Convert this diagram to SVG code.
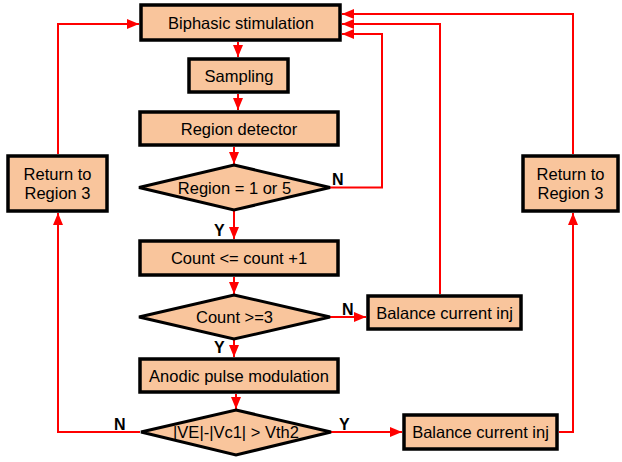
<svg xmlns="http://www.w3.org/2000/svg" width="622" height="462" viewBox="0 0 622 462">
<style>
.box{fill:#F9C59C;stroke:#000;stroke-width:3.5}
.dia{fill:#F9C59C;stroke:#000;stroke-width:3}
.t{font-family:"Liberation Sans",Arial,sans-serif;font-size:16.5px;fill:#000;text-anchor:middle}
.lbl{font-family:"Liberation Sans",Arial,sans-serif;font-size:16px;font-weight:bold;fill:#000}
.c{fill:none;stroke:#FF0000;stroke-width:2;marker-end:url(#ah)}
</style>
<defs>
<marker id="ah" markerUnits="userSpaceOnUse" markerWidth="12" markerHeight="10" refX="12" refY="5" orient="auto">
<path d="M0,0 L12,5 L0,10 z" fill="#FF0000"/>
</marker>
</defs>
<rect width="622" height="462" fill="#fff"/>
<g id="connectors">
<path class="c" d="M238,42 V57"/>
<path class="c" d="M238,94 V110"/>
<path class="c" d="M234,147 V164"/>
<path class="c" d="M330,187.5 H382 V34 H342"/>
<path class="c" d="M440,294 V24 H342"/>
<path class="c" d="M573,154 V14 H342"/>
<path class="c" d="M58,154 V24 H139"/>
<path class="c" d="M234,210 V239"/>
<path class="c" d="M234,277 V294"/>
<path class="c" d="M330,317 H366"/>
<path class="c" d="M234,340 V357"/>
<path class="c" d="M236,394 V409"/>
<path class="c" d="M140,432 H58 V213"/>
<path class="c" d="M331,432 H402"/>
<path class="c" d="M559,432 H573 V213"/>
<text class="lbl" x="332" y="185">N</text>
<text class="lbl" x="214" y="236">Y</text>
<text class="lbl" x="342" y="315">N</text>
<text class="lbl" x="214" y="353">Y</text>
<text class="lbl" x="114" y="430">N</text>
<text class="lbl" x="339" y="430">Y</text>
</g>
<g id="biphasic">
<rect class="box" x="141" y="5" width="199" height="35"/>
<text class="t" x="241" y="28.5">Biphasic stimulation</text>
</g>
<g id="sampling">
<rect class="box" x="189" y="59" width="99" height="33"/>
<text class="t" x="239" y="81.5">Sampling</text>
</g>
<g id="region-detector">
<rect class="box" x="140" y="112" width="198" height="33"/>
<text class="t" x="239" y="134.5">Region detector</text>
</g>
<g id="region-decision">
<polygon class="dia" points="234,165 330,187.5 234,210 139,187.5"/>
<text class="t" x="234.5" y="193.5">Region = 1 or 5</text>
</g>
<g id="count">
<rect class="box" x="140" y="241" width="198" height="34"/>
<text class="t" x="239" y="264">Count &lt;= count +1</text>
</g>
<g id="count-decision">
<polygon class="dia" points="234,295 330,317 234,339 139,317"/>
<text class="t" x="234.5" y="323">Count &gt;=3</text>
</g>
<g id="balance1">
<rect class="box" x="368" y="296" width="153" height="33"/>
<text class="t" x="444.5" y="318.5">Balance current inj</text>
</g>
<g id="anodic">
<rect class="box" x="140" y="359" width="198" height="33"/>
<text class="t" x="239" y="381.5">Anodic pulse modulation</text>
</g>
<g id="vth-decision">
<polygon class="dia" points="236,410 331,432 236,455 141,432"/>
<text class="t" x="236" y="438">|VE|-|Vc1| &gt; Vth2</text>
</g>
<g id="balance2">
<rect class="box" x="404" y="415" width="153" height="34"/>
<text class="t" x="480.5" y="438">Balance current inj</text>
</g>
<g id="return-left">
<rect class="box" x="8" y="156" width="99" height="55"/>
<text class="t" x="57.5" y="180">Return to</text>
<text class="t" x="57.5" y="199">Region 3</text>
</g>
<g id="return-right">
<rect class="box" x="523" y="156" width="95" height="55"/>
<text class="t" x="570.5" y="180">Return to</text>
<text class="t" x="570.5" y="199">Region 3</text>
</g>
</svg>
